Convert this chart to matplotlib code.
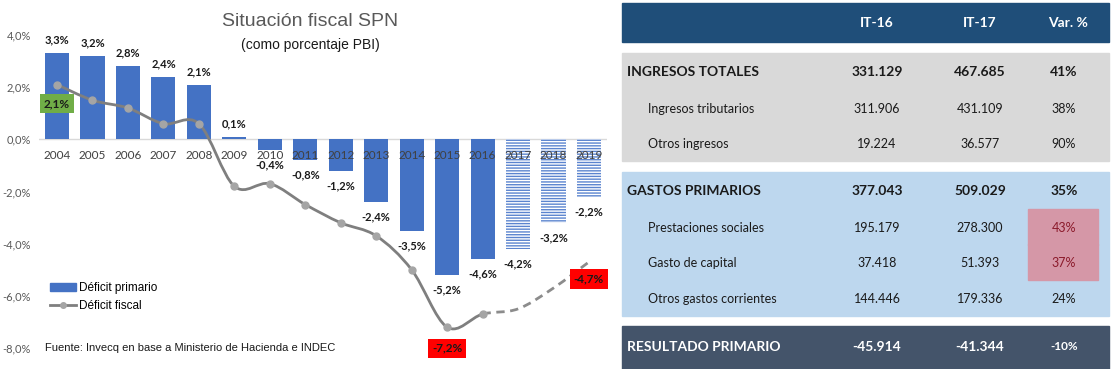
import matplotlib.pyplot as plt
import numpy as np
from matplotlib.path import Path
from matplotlib.patches import PathPatch, Rectangle
from matplotlib.lines import Line2D

# datos del grafico (% del PBI)
anios = [str(a) for a in range(2004, 2020)]
deficit_primario = [3.3, 3.2, 2.8, 2.4, 2.1, 0.1, -0.4, -0.8, -1.2, -2.4, -3.5, -5.2, -4.6, -4.2, -3.2, -2.2]
deficit_fiscal = [2.1, 1.5, 1.2, 0.6, 0.6, -1.8, -1.7, -2.5, -3.2, -3.7, -5.0, -7.2, -6.7, -6.5, -5.7, -4.7]
n_proy = 3  # 2017-2019 proyectados
y_ticks = [4, 2, 0, -2, -4, -6, -8]

# datos de la tabla
cols = ['IT-16', 'IT-17', 'Var. %']
filas = ['INGRESOS TOTALES', 'Ingresos tributarios', 'Otros ingresos',
         'GASTOS PRIMARIOS', 'Prestaciones sociales', 'Gasto de capital',
         'Otros gastos corrientes', 'RESULTADO PRIMARIO']
it16 = ['331.129', '311.906', '19.224', '377.043', '195.179', '37.418', '144.446', '-45.914']
it17 = ['467.685', '431.109', '36.577', '509.029', '278.300', '51.393', '179.336', '-41.344']
var = ['41%', '38%', '90%', '35%', '43%', '37%', '24%', '-10%']
negrita = [True, False, False, True, False, False, False, True]
destacado = [False, False, False, False, True, True, False, False]

ARIAL = ['Liberation Sans', 'DejaVu Sans']
CAL = ['Lato', 'DejaVu Sans']
AZUL = '#4472C4'


def pct(v):
    return f'{v:.1f}%'.replace('.', ',')


fig = plt.figure(figsize=(11.13, 3.69), dpi=100)

# ---------- tabla (coordenadas en pixeles) ----------
tb = fig.add_axes([0, 0, 1, 1])
tb.set_xlim(0, 1113)
tb.set_ylim(369, 0)
tb.axis('off')

tb.add_patch(Rectangle((622, 3), 487, 39, color='#1F4E79'))
tb.add_patch(Rectangle((622, 53), 487, 108, color='#D9D9D9'))
tb.add_patch(Rectangle((622, 172), 487, 144, color='#BDD7EE'))
tb.add_patch(Rectangle((622, 326), 487, 43, color='#44546A'))

col_x = [877, 980, 1068]
for x, c in zip(col_x, cols):
    tb.text(x, 23, c, ha='center', va='center', color='white', fontsize=10,
            fontweight='bold', family=CAL)

fila_y = [72, 109, 144, 191, 228, 263, 299, 347]
for i, y in enumerate(fila_y):
    b = negrita[i]
    col = 'white' if i == 7 else '#1a1a1a'
    fs = 10 if b else 9
    fw = 'bold' if b else 'normal'
    tb.text(627 if b else 648, y, filas[i], ha='left', va='center', color=col,
            fontsize=fs, fontweight=fw, family=CAL)
    tb.text(col_x[0], y, it16[i], ha='center', va='center', color=col,
            fontsize=fs, fontweight=fw, family=CAL)
    tb.text(col_x[1], y, it17[i], ha='center', va='center', color=col,
            fontsize=fs, fontweight=fw, family=CAL)
    vcol = col
    if destacado[i]:
        tb.add_patch(Rectangle((1028, y - 19), 70, 36, color='#D597A7'))
        vcol = '#8B1A2B'
    tb.text(1064, y, var[i], ha='center', va='center', color=vcol,
            fontsize=8.5 if i == 7 else fs, fontweight=fw, family=CAL)

# ---------- grafico ----------
ax = fig.add_axes([39.3 / 1113, 1 - 348 / 369, 567.4 / 1113, 313 / 369])
x = np.arange(len(anios))
n_real = len(anios) - n_proy

ax.bar(x[:n_real], deficit_primario[:n_real], width=0.68, color=AZUL, zorder=2)
ax.bar(x[n_real:], deficit_primario[n_real:], width=0.68, color='white',
       edgecolor='#5B84CF', hatch='------', linewidth=0, zorder=2)

ax.set_xlim(-0.5, len(anios) - 0.5)
ax.set_ylim(-8, 4)
ax.set_yticks(y_ticks)
ax.set_yticklabels([pct(v) for v in y_ticks], fontsize=8, color='#595959', family=CAL)
ax.tick_params(axis='y', length=0, pad=6)
ax.set_xticks([])
for s in ax.spines.values():
    s.set_visible(False)
ax.axhline(0, color='#D9D9D9', lw=1, zorder=1)

for i, v in enumerate(deficit_primario):
    off = 13 if v > 0 else -15
    ax.annotate(pct(v), (i, v), xytext=(0, off), textcoords='offset pixels',
                ha='center', va='center', fontsize=8, fontweight='bold',
                color='#1a1a1a', family=CAL, zorder=5)
    ax.annotate(anios[i], (i, 0), xytext=(0, -16), textcoords='offset pixels',
                ha='center', va='center', fontsize=8.5, color='#404040',
                family=CAL, zorder=5)

# linea suavizada (estilo Excel, curvas de Bezier entre puntos)
pts = np.column_stack([x, deficit_fiscal]).astype(float)


def tramo(i0, i1):
    verts = [pts[i0]]
    codes = [Path.MOVETO]
    for i in range(i0, i1):
        p0 = pts[max(i - 1, 0)]
        p1 = pts[i]
        p2 = pts[i + 1]
        p3 = pts[min(i + 2, len(pts) - 1)]
        c1 = p1 + (p2 - p0) / 6
        c2 = p2 - (p3 - p1) / 6
        verts += [c1, c2, p2]
        codes += [Path.CURVE4] * 3
    return Path(verts, codes)


ax.add_patch(PathPatch(tramo(0, n_real - 1), fill=False, edgecolor='#7F7F7F',
                       lw=2, zorder=3))
ax.add_patch(PathPatch(tramo(n_real - 1, len(pts) - 1), fill=False,
                       edgecolor='#8C8C8C', lw=2, ls=(0, (3, 2)), zorder=3))
ax.plot(x[:n_real], deficit_fiscal[:n_real], ls='none', marker='o', ms=5,
        color='#A5A5A5', zorder=4)

cajas = [(0, '#70AD47', -19), (11, '#FF0000', -21), (15, '#FF0000', -17)]
for i, c, off in cajas:
    ax.annotate(pct(deficit_fiscal[i]), (i, deficit_fiscal[i]), xytext=(0, off),
                textcoords='offset pixels', ha='center', va='center',
                fontsize=8.5, fontweight='bold', color='#1a1a1a', family=CAL,
                bbox=dict(boxstyle='square,pad=0.35', fc=c, ec='none'),
                zorder=6, annotation_clip=False)

fig.text(310 / 1113, 1 - 21 / 369, 'Situación fiscal SPN', ha='center', va='center',
         fontsize=14, color='#595959', family=ARIAL)
fig.text(310 / 1113, 1 - 45 / 369, '(como porcentaje PBI)', ha='center', va='center',
         fontsize=10, color='#1a1a1a', family=ARIAL)

handles = [Rectangle((0, 0), 1, 1, color=AZUL),
           Line2D([], [], color='#7F7F7F', lw=2, marker='o', ms=4,
                  markerfacecolor='#A5A5A5', markeredgecolor='#A5A5A5')]
ax.legend(handles, ['Déficit primario', 'Déficit fiscal'], loc='upper left',
          bbox_to_anchor=(0.0, 0.245), frameon=False, handlelength=2.2,
          handleheight=0.6, handletextpad=0.3, labelspacing=0.5,
          prop={'family': ARIAL, 'size': 8.5})

fig.text(45 / 1113, 1 - 348 / 369, 'Fuente: Invecq en base a Ministerio de Hacienda e INDEC',
         ha='left', va='center', fontsize=8, color='#1a1a1a', family=ARIAL)

fig.savefig('out.png', dpi=100)
